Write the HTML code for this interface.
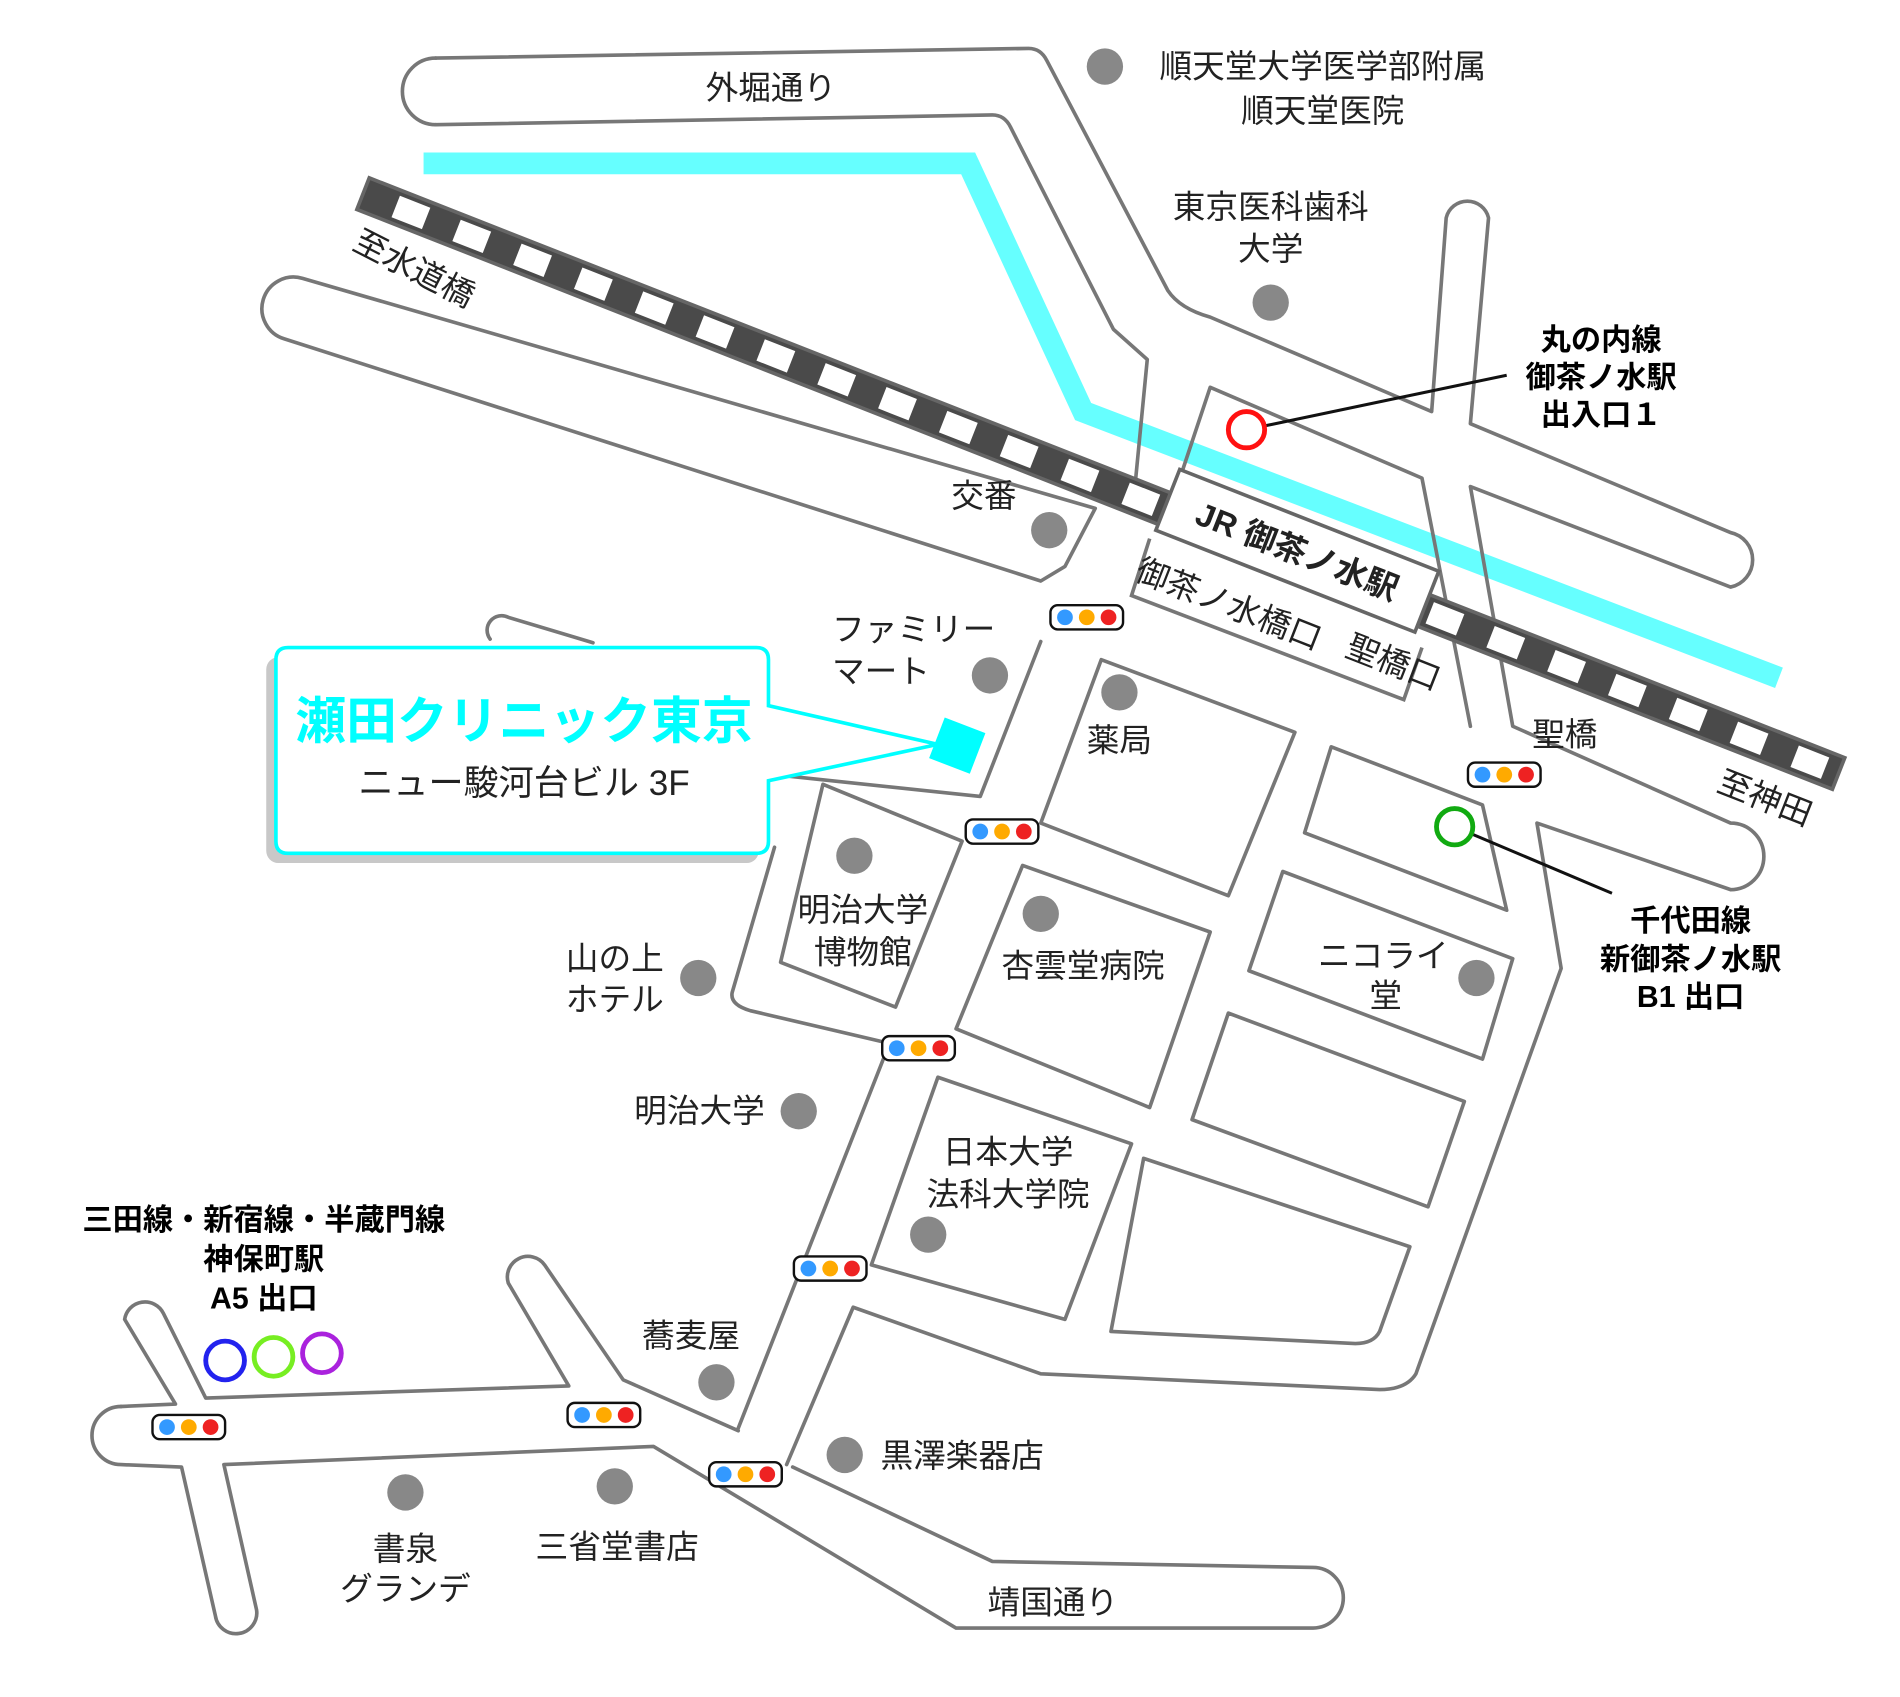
<!DOCTYPE html>
<html><head><meta charset="utf-8"><style>
html,body{margin:0;padding:0;background:#fff;}
svg{display:block;}
text{font-family:"Liberation Sans","Noto Sans CJK JP",sans-serif;fill:#222;}
.l{font-size:27px;text-anchor:middle;}
.b{font-size:25px;font-weight:bold;text-anchor:middle;fill:#000;}
</style></head><body>
<svg width="1900" height="1697" viewBox="0 0 1570 1402" preserveAspectRatio="none" xmlns="http://www.w3.org/2000/svg">
<rect width="1570" height="1402" fill="#fff"/>
<polyline points="350,135 800,135 895,340 1470,560" fill="none" stroke="#6ff" stroke-width="18"/>
<g fill="none" stroke="#777" stroke-width="3" stroke-linejoin="round" stroke-linecap="round">
<path d="M360,103 L820,95 Q830,95 835,105 L920,272 L948,297 L938,400"/>
<path d="M360,48 A27 27 0 0 0 360,103"/>
<path d="M360,48 L850,40 Q860,40 865,50 L965,240 Q975,255 1000,262 L1183,340 L1195,180 A18 18 0 0 1 1230,180 L1215,350 L1430,440 A23 23 0 0 1 1430,485 L1215,402 L1250,600 L1430,680 A24 24 0 0 1 1430,735 L1270,680 L1290,800 L1170,1135 Q1162,1148 1140,1148 L860,1135 L705,1080 L650,1210"/>
<path d="M1000,320 L975,395 M1000,320 L1175,395 L1215,600"/>
<path d="M905,420 L250,230 A25 25 0 0 0 235,280 L860,480 L880,468 L905,420"/>
<path d="M490,531 L420,510 A12 12 0 0 0 405,528 M860,530 L810,658 L640,640"/>
<path d="M640,700 L605,820 Q603,830 620,835 L735,862 L610,1180"/>
<polygon points="910,545 1070,605 1015,740 860,680"/>
<polygon points="1100,617 1225,665 1245,752 1078,688"/>
<polygon points="680,648 795,695 740,832 645,795"/>
<polygon points="845,715 1000,770 950,915 790,850"/>
<polygon points="1060,720 1250,792 1225,875 1032,802"/>
<polygon points="1015,837 1210,910 1180,997 985,925"/>
<polygon points="775,890 935,945 880,1090 720,1045"/>
<path d="M945,957 L1165,1030 L1140,1100 Q1135,1110 1120,1110 L918,1100 Z"/>
<path d="M100,1162 A24 24 0 0 0 100,1210 L150,1212 L178,1335 A17 17 0 0 0 212,1330 L185,1210 L540,1195 L790,1345 L1085,1345 A23 23 0 0 0 1085,1295 L820,1290 L655,1212"/>
<path d="M100,1162 L145,1160 L103,1090 A17 17 0 0 1 135,1085 L170,1155 L470,1145 L420,1060 A17 17 0 0 1 450,1045 L515,1140 L610,1182"/>
</g>
<g transform="translate(300,160) rotate(21.45)">
<rect x="0" y="-14" width="1310" height="28" fill="#4a4a4a" stroke="#666" stroke-width="3"/>
<line x1="2" y1="0" x2="1308" y2="0" stroke="#fff" stroke-width="19" stroke-dasharray="27 27" stroke-dashoffset="-27"/>
</g>
<g fill="none" stroke="#777" stroke-width="3"><path d="M950,445 L935,492 L1160,578 L1175,535"/></g>
<g transform="translate(1072,455) rotate(21.45)">
<rect x="-115" y="-27" width="230" height="54" fill="#fff" stroke="#666" stroke-width="3"/>
<text x="0" y="10" font-size="27" font-weight="bold" text-anchor="middle" fill="#000">JR 御茶ノ水駅</text>
</g>
<g fill="#888">
<circle cx="913" cy="55" r="15"/><circle cx="1050" cy="250" r="15"/><circle cx="867" cy="438" r="15"/>
<circle cx="818" cy="558" r="15"/><circle cx="925" cy="572" r="15"/><circle cx="706" cy="707" r="15"/>
<circle cx="860" cy="755" r="15"/><circle cx="1220" cy="808" r="15"/><circle cx="577" cy="808" r="15"/>
<circle cx="660" cy="918" r="15"/><circle cx="767" cy="1020" r="15"/><circle cx="592" cy="1142" r="15"/>
<circle cx="698" cy="1202" r="15"/><circle cx="335" cy="1233" r="15"/><circle cx="508" cy="1228" r="15"/>
</g>
<defs><g id="tl"><rect x="-30" y="-10" width="60" height="20" rx="6" fill="#fff" stroke="#111" stroke-width="2"/><circle cx="-18" cy="0" r="6.5" fill="#39f"/><circle cx="0" cy="0" r="6.5" fill="#fa0"/><circle cx="18" cy="0" r="6.5" fill="#e22"/></g></defs>
<use href="#tl" x="898" y="510"/><use href="#tl" x="828" y="687"/><use href="#tl" x="759" y="866"/>
<use href="#tl" x="686" y="1048"/><use href="#tl" x="616" y="1218"/><use href="#tl" x="499" y="1169"/>
<use href="#tl" x="156" y="1179"/><use href="#tl" x="1243" y="640"/>
<line x1="1030" y1="355" x2="1245" y2="310" stroke="#111" stroke-width="2.5"/>
<circle cx="1030" cy="355" r="15" fill="#fff" stroke="#f11" stroke-width="4"/>
<line x1="1202" y1="683" x2="1332" y2="738" stroke="#111" stroke-width="2.5"/>
<circle cx="1202" cy="683" r="15" fill="#fff" stroke="#1a1" stroke-width="4"/>
<circle cx="186" cy="1124" r="16" fill="none" stroke="#22e" stroke-width="4"/>
<circle cx="226" cy="1121" r="16" fill="none" stroke="#7e2" stroke-width="4"/>
<circle cx="266" cy="1118" r="16" fill="none" stroke="#a2d" stroke-width="4"/>
<rect x="220" y="543" width="407" height="170" rx="10" fill="#c8c8c8"/>
<path d="M238,535 L625,535 Q635,535 635,545 L635,583 L775,615 L635,645 L635,695 Q635,705 625,705 L238,705 Q228,705 228,695 L228,545 Q228,535 238,535 Z" fill="#fff" stroke="#0ff" stroke-width="3"/>
<rect x="773" y="598" width="36" height="36" fill="#0ff" transform="rotate(21 791 616)"/>
<text x="433" y="610" font-size="42" font-weight="bold" text-anchor="middle" style="fill:#0ff">瀬田クリニック東京</text>
<text x="433" y="657" font-size="29" text-anchor="middle">ニュー駿河台ビル 3F</text>
<text class="l" x="637" y="82" font-size="29">外堀通り</text>
<text class="l" x="1093" y="64">順天堂大学医学部附属</text>
<text class="l" x="1093" y="101">順天堂医院</text>
<text class="l" x="1050" y="180">東京医科歯科</text>
<text class="l" x="1050" y="215">大学</text>
<text class="b" x="1323" y="289">丸の内線</text>
<text class="b" x="1323" y="320">御茶ノ水駅</text>
<text class="b" x="1323" y="351">出入口１</text>
<text class="l" transform="translate(338,230) rotate(27)" x="0" y="0" font-size="30">至水道橋</text>
<text class="l" x="813" y="419">交番</text>
<text class="l" transform="translate(1012,508) rotate(21.45)" x="0" y="0" font-size="23">御茶ノ水橋口</text>
<text class="l" transform="translate(1148,556) rotate(21.45)" x="0" y="0" font-size="23">聖橋口</text>
<text class="l" x="1293" y="616">聖橋</text>
<text class="l" transform="translate(1455,668) rotate(21.45)" x="0" y="0" font-size="30">至神田</text>
<text class="l" x="755" y="529">ファミリー</text>
<text class="l" x="728" y="564">マート</text>
<text class="l" x="925" y="621">薬局</text>
<text class="l" x="713" y="761">明治大学</text>
<text class="l" x="713" y="796">博物館</text>
<text class="l" x="895" y="807">杏雲堂病院</text>
<text class="l" x="1143" y="799">ニコライ</text>
<text class="l" x="1145" y="832">堂</text>
<text class="b" x="1397" y="769">千代田線</text>
<text class="b" x="1397" y="801">新御茶ノ水駅</text>
<text class="b" x="1397" y="832">B1 出口</text>
<text class="l" x="508" y="801">山の上</text>
<text class="l" x="508" y="835">ホテル</text>
<text class="l" x="578" y="927">明治大学</text>
<text class="l" x="833" y="961">日本大学</text>
<text class="l" x="833" y="996">法科大学院</text>
<text class="b" x="218" y="1016">三田線・新宿線・半蔵門線</text>
<text class="b" x="218" y="1049">神保町駅</text>
<text class="b" x="218" y="1081">A5 出口</text>
<text class="l" x="571" y="1113">蕎麦屋</text>
<text class="l" x="795" y="1212">黒澤楽器店</text>
<text class="l" x="335" y="1289">書泉</text>
<text class="l" x="335" y="1322">グランデ</text>
<text class="l" x="510" y="1287">三省堂書店</text>
<text class="l" x="870" y="1333" font-size="29">靖国通り</text>
</svg>
</body></html>
